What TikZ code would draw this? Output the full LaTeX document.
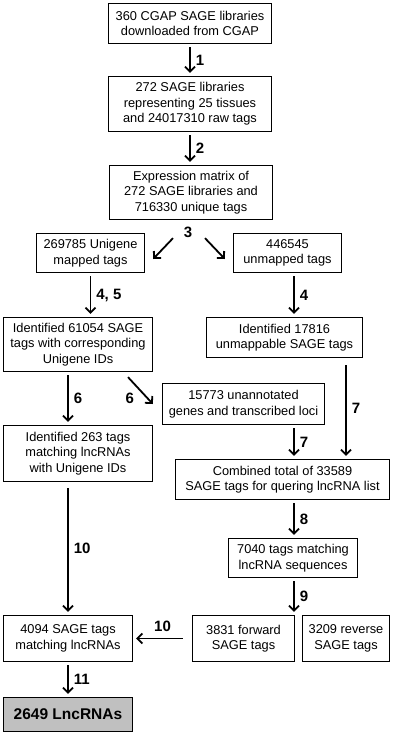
\documentclass[tikz,border=0pt]{standalone}
\usepackage{fontspec}
\setmainfont{Liberation Sans}
\usetikzlibrary{arrows.meta}
\definecolor{lncgray}{RGB}{192,192,192}

\begin{document}
\begin{tikzpicture}[x=1pt, y=-1pt,
		box/.style={draw, line width=1.3pt, align=center, inner sep=0pt, font=\fontsize{12.8}{15.5}\selectfont},
		num/.style={font=\bfseries\fontsize{15}{15}\selectfont, inner sep=2pt},
		flow/.style={-{Straight Barb[length=5pt,width=10pt]}, line width=1.8pt, shorten <=3pt, shorten >=3pt}]
				\useasboundingbox (0,0) rectangle (400,736);

				\node[box, minimum width=163pt, minimum height=40pt] (A) at (190,23.5) {360 CGAP SAGE libraries\\downloaded from CGAP};
				\node[box, minimum width=163pt, minimum height=55pt] (B) at (190,104) {272 SAGE libraries\\representing 25 tissues\\and 24017310 raw tags};
				\node[box, minimum width=163pt, minimum height=54pt] (C) at (191,192.5) {Expression matrix of\\272 SAGE libraries and\\716330 unique tags};
				\node[box, minimum width=108pt, minimum height=39pt] (D) at (90.5,253) {269785 Unigene\\mapped tags};
				\node[box, minimum width=108pt, minimum height=39pt] (E) at (287.5,253) {446545\\unmapped tags};
				\node[box, minimum width=149pt, minimum height=54pt] (F) at (78,344.5) {Identified 61054 SAGE\\tags with corresponding\\Unigene IDs};
				\node[box, minimum width=156pt, minimum height=40pt] (G) at (284.5,337.5) {Identified 17816\\unmappable SAGE tags};
				\node[box, minimum width=162pt, minimum height=41pt] (H) at (243.5,404) {15773 unannotated\\genes and transcribed loci};
				\node[box, minimum width=149pt, minimum height=56pt] (I) at (78,453.5) {Identified 263 tags\\matching lncRNAs\\with Unigene IDs};
				\node[box, minimum width=214pt, minimum height=40pt] (J) at (282.5,479.5) {Combined total of 33589\\SAGE tags for quering lncRNA list};
				\node[box, minimum width=129pt, minimum height=39pt] (K) at (293,558) {7040 tags matching\\lncRNA sequences};
				\node[box, minimum width=129pt, minimum height=46pt] (L) at (68,638.5) {4094 SAGE tags\\matching lncRNAs};
				\node[box, minimum width=102pt, minimum height=46pt] (M) at (243.5,638.5) {3831 forward\\SAGE tags};
				\node[box, minimum width=87pt, minimum height=46pt] (N) at (346,638.5) {3209 reverse\\SAGE tags};
				\node[box, fill=lncgray, minimum width=129pt, minimum height=34pt, font=\bfseries\fontsize{15.5}{18}\selectfont] (O) at (68,714.5) {2649 LncRNAs};
				\node[num, below=5pt, xshift=-3pt] (T) at (C.south) {3};

				\path [flow] (A) edge node[num, right=3pt] {1} (B);
				\path [flow] (B.south) edge node[num, right=3pt] {2} (B.south |- C.north);
				\path [flow, shorten <=0pt, shorten >=0pt] ([xshift=-18pt, yshift=-18pt]C.south) edge ([xshift=8pt, yshift=-6pt]D.east);
				\path [flow, shorten <=0pt, shorten >=0pt] ([xshift=14pt, yshift=-18pt]C.south) edge ([xshift=-8pt, yshift=-6pt]E.west);
				\path [flow] (D.south) edge node[num, right=3pt] {4, 5} (D.south |- F.north);
				\path [flow] (E.south -| 294,0) edge node[num, right=3pt] {4} (G.north -| 294,0);
				\path [flow] (F.south -| L) edge node[num, right=3pt] {6} (I.north -| L);
				\path [flow, shorten <=0pt, shorten >=0pt] ([xshift=50pt, yshift=-5pt]F.south) edge node[num, pos=.8, left=11pt] {6} ([xshift=-9pt]H.west);
				\path [flow, shorten <=7pt] (G.south -| 346,0) edge node[num, right=3pt] {7} (J.north -| 346,0);
				\path [flow] (H.south -| 294,0) edge node[num, right=3pt] {7} (J.north -| 294,0);
				\path [flow] (J.south -| 294,0) edge node[num, right=3pt] {8} (K.north -| 294,0);
				\path [flow] (K.south -| 294,0) edge node[num, right=3pt] {9} (M.north -| 294,0);
				\path [flow, shorten <=6pt] (I.south -| L) edge node[num, right=3pt] {10} (L.north);
				\path [flow, shorten <=9pt] (M.west) edge node[num, above=4pt] {10} (L.east);
				\path [flow] (L) edge node[num, right=3pt] {11} (O);
			\end{tikzpicture}
\end{document}
